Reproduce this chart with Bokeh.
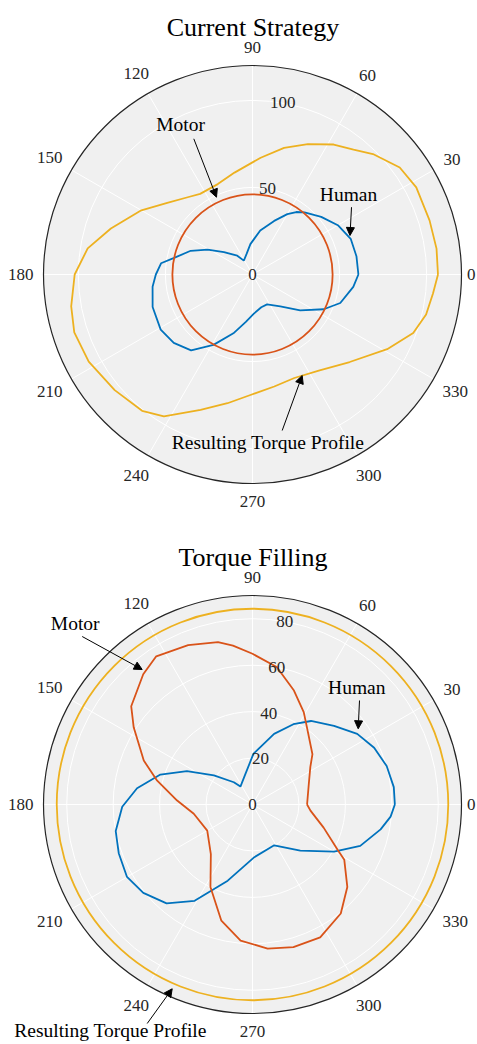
import numpy as np
from bokeh.plotting import figure
from bokeh.layouts import column
from bokeh.models import Range1d, Arrow, NormalHead
from bokeh.core.properties import value
from bokeh.embed import file_html
from bokeh.resources import INLINE

# ---------------- data ----------------
theta_ticks = [0, 30, 60, 90, 120, 150, 180, 210, 240, 270, 300, 330]

top_title = "Current Strategy"
top_rmax = 120
top_rticks = [0, 50, 100]
top_motor_r = 46
top_human_deg = [0, 10, 20, 30, 40, 50, 55, 60, 68, 80, 94, 106, 122, 129, 142, 151, 159, 168,
                 173, 180, 187, 198, 211, 221, 231, 241, 252, 262, 272, 285, 296, 311, 323,
                 334, 342, 353]
top_human_r = [60.8, 60.6, 60.0, 56.6, 51.5, 46.5, 43.8, 40.0, 33.2, 25.6, 17.5, 12.3, 9.4, 13.9,
               20.8, 29.5, 38.0, 46.0, 52.9, 55.5, 57.8, 60.3, 61.5, 59.9, 56.0, 46.2, 35.5,
               27.5, 22.5, 19.5, 19.1, 24.3, 34.3, 45.5, 53.0, 58.3]
top_result_deg = [0, 8, 17, 28, 36, 45, 51, 58, 67, 76, 86, 100, 111, 123, 130, 140, 150, 162,
                  171, 180, 190, 198, 208, 220, 231, 238, 249, 259, 269, 281, 292, 305, 318,
                  331, 340, 347, 354]
top_result_r = [106.5, 106.7, 106.3, 106.5, 104.5, 97.8, 92.2, 88.0, 81.3, 74.9, 67.2, 59.4,
                55.6, 55.2, 57.9, 63.9, 73.7, 85.5, 95.8, 102.1, 105.7, 107.6, 106.5, 103.3,
                100.7, 96.0, 83.2, 75.3, 69.2, 65.5, 64.1, 67.2, 75.1, 88.4, 98.2, 102.3, 104.2]

bot_title = "Torque Filling"
bot_rmax = 90
bot_rticks = [0, 20, 40, 60, 80]
bot_result_r = 84.3
bot_human_deg = [0, 7, 16, 25, 34, 44, 55, 63, 73, 89, 103, 124, 130, 143, 153, 162, 172, 181,
                 191, 200, 210, 219, 229, 239, 252, 272, 298, 316, 330, 339, 349, 355]
bot_human_r = [61.3, 61.3, 60.1, 57.8, 54.4, 48.8, 43.9, 38.8, 31.8, 21.8, 13.5, 9.3, 12.5,
               20.8, 31.7, 41.7, 50.2, 56.1, 60.0, 61.3, 62.4, 60.5, 56.4, 48.4, 34.5, 22.7,
               19.9, 28.6, 40.6, 49.7, 56.2, 59.7]
bot_motor_deg = [0, 20, 33, 40, 55, 61, 70, 80, 90, 97, 102, 112, 123, 130, 141, 147, 158, 166,
                 177, 189, 210, 230, 243, 255, 265, 276, 286, 297, 309, 319, 329, 332, 342, 354]
bot_motor_r = [23.5, 25.8, 29.7, 33.7, 40.8, 45.5, 52.2, 60.1, 64.9, 68.9, 71.5, 74.0, 76.1,
               73.2, 67.2, 61.0, 50.5, 42.3, 32.5, 25.6, 22.5, 27.9, 39.9, 51.8, 58.8, 62.4,
               63.9, 64.2, 60.4, 54.1, 46.1, 41.5, 32.2, 25.1]

# ---------------- style ----------------
FONT = "Liberation Serif"
BLUE = "#0072BD"
RED = "#D95319"
YELLOW = "#EDB120"
BG = "#F0F0F0"
DARK = "#262626"
W = 477
R_PX = 209
LW = 1.8


def polar_xy(deg, r):
    t = np.deg2rad(np.asarray(deg, dtype=float))
    rr = np.asarray(r, dtype=float)
    x = rr * np.cos(t)
    y = rr * np.sin(t)
    return np.append(x, x[0]), np.append(y, y[0])


def make_panel(height, top_px, CX, CY, rmax, rticks, title, title_pos, curves, notes):
    s = R_PX / rmax
    cx = CX
    cy = CY - top_px
    p = figure(width=W, height=height,
               x_range=Range1d(-cx / s, (W - cx) / s),
               y_range=Range1d(-(height - cy) / s, cy / s),
               output_backend="svg", toolbar_location=None, min_border=0)
    p.axis.visible = False
    p.grid.visible = False
    p.outline_line_color = None
    p.background_fill_color = "white"
    p.border_fill_color = "white"

    def d(X, Y):
        return (X - CX) / s, (CY - Y) / s

    p.circle(x=[0], y=[0], radius=rmax, fill_color=BG, line_color=None)
    nr = len(rticks) - 1
    p.circle(x=[0] * nr, y=[0] * nr, radius=rticks[1:], fill_color=None,
             line_color="white", line_width=1)
    t = np.deg2rad(theta_ticks)
    p.segment(x0=[0] * len(t), y0=[0] * len(t), x1=rmax * np.cos(t), y1=rmax * np.sin(t),
              line_color="white", line_width=1)

    for kind, a, b, col in curves:
        if kind == "line":
            x, y = polar_xy(a, b)
            p.line(x, y, line_color=col, line_width=LW)
        else:
            p.circle(x=[0], y=[0], radius=a, fill_color=None, line_color=col, line_width=LW)

    p.circle(x=[0], y=[0], radius=rmax, fill_color=None, line_color=DARK, line_width=1.2)

    # theta tick labels
    lx, ly, lt = [], [], []
    for deg in theta_ticks:
        lab = str(deg)
        w = len(lab) * 0.5 * 17
        c, sn = np.cos(np.deg2rad(deg)), np.sin(np.deg2rad(deg))
        rpx = 219 + 0.5 * w * abs(c) + 8 * abs(sn)
        px = rpx * c
        px = min(px, W - CX - 2 - 0.5 * w)
        px = max(px, -CX + 2 + 0.5 * w)
        lx.append(px / s)
        ly.append(rpx * sn / s)
        lt.append(lab)
    p.text(x=lx, y=ly, text=lt, text_font=value(FONT), text_font_size="17px",
           text_color=DARK, text_align="center", text_baseline="middle")

    # r tick labels along 80 degrees
    a80 = np.deg2rad(80)
    p.text(x=[r * np.cos(a80) for r in rticks], y=[r * np.sin(a80) for r in rticks],
           text=[str(r) for r in rticks], text_font=value(FONT), text_font_size="17px",
           text_color=DARK, text_align="center", text_baseline="middle")

    # title
    tx, ty = d(*title_pos)
    p.text(x=[tx], y=[ty], text=[title], text_font=value(FONT), text_font_size="26px",
           text_color="black", text_align="center", text_baseline="alphabetic")

    # annotations
    for lab, (TX, TY), (AX0, AY0), (AX1, AY1) in notes:
        x0, y0 = d(TX, TY)
        p.text(x=[x0], y=[y0], text=[lab], text_font=value(FONT), text_font_size="19.5px",
               text_color="black", text_align="center", text_baseline="middle")
        xs, ys = d(AX0, AY0)
        xe, ye = d(AX1, AY1)
        p.add_layout(Arrow(end=NormalHead(size=8, fill_color="black", line_color="black",
                                          line_width=1),
                           x_start=xs, y_start=ys, x_end=xe, y_end=ye,
                           line_color="black", line_width=1))
    return p


p1 = make_panel(
    520, 0, 252, 274, top_rmax, top_rticks, top_title, (252.5, 27),
    [("line", top_human_deg, top_human_r, BLUE),
     ("circle", top_motor_r, None, RED),
     ("line", top_result_deg, top_result_r, YELLOW)],
    [("Motor", (180, 124), (193.3, 138.3), (216, 196.7)),
     ("Human", (348, 193.5), (351, 206.7), (349.5, 235)),
     ("Resulting Torque Profile", (267.5, 441.5), (281.7, 430), (301.7, 375))])

p2 = make_panel(
    524, 520, 252, 804, bot_rmax, bot_rticks, bot_title, (252.5, 557),
    [("line", bot_human_deg, bot_human_r, BLUE),
     ("line", bot_motor_deg, bot_motor_r, RED),
     ("circle", bot_result_r, None, YELLOW)],
    [("Motor", (74.7, 623), (81.7, 636), (141.7, 669)),
     ("Human", (356.3, 687), (359, 700), (357.7, 728.3)),
     ("Resulting Torque Profile", (110, 1030), (146.7, 1023), (171.7, 988.3))])

layout = column(p1, p2, spacing=0)
open("out.html", "w").write(file_html(layout, INLINE))
